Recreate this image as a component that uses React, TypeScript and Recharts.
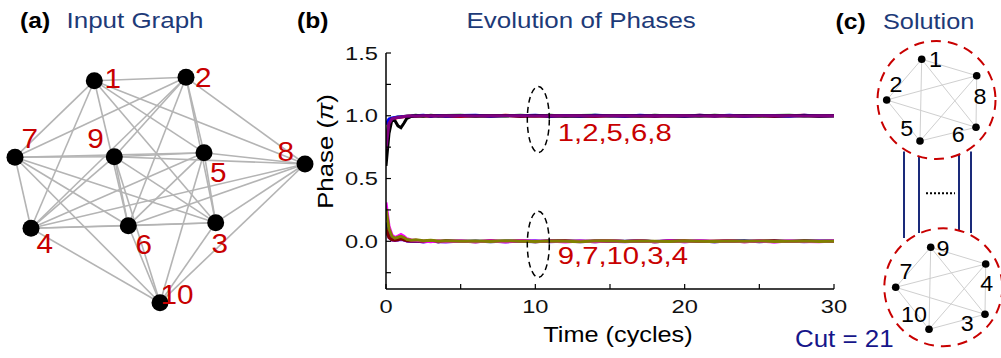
import React from 'react';
import {
  LineChart, Line, XAxis, YAxis, ReferenceDot, ReferenceLine,
  ScatterChart, Scatter, Customized,
} from 'recharts';

const FONT = '"Liberation Sans", Arial, Helvetica, sans-serif';
const NAVY = '#1d3a78';
const RED = '#c80000';

// ---------------- (b) Evolution of phases ----------------
const timeCycles = [0, 0.2, 0.4, 0.6, 0.8, 1.0, 1.2, 1.4, 1.7, 2, 2.5, 3, 3.5, 4, 5, 6, 7, 8, 9, 10,
  11, 12, 13, 14, 15, 16, 17, 18, 19, 20, 21, 22, 23, 24, 25, 26, 27, 28, 29, 30];

const phaseBlack = [0.60, 0.86, 0.97, 0.96, 0.92, 0.905, 0.94, 0.98, 0.995, 1.0,
  0.998, 1.002, 0.999, 1.0, 1.001, 0.998, 1.0, 1.002, 0.999, 1.0,
  1.001, 0.999, 1.0, 0.998, 1.001, 1.0, 0.999, 1.001, 1.0, 0.999,
  1.0, 1.002, 0.999, 1.0, 1.001, 0.998, 1.0, 1.001, 0.999, 1.0];
const phaseBlue = [0.93, 0.975, 0.982, 0.986, 0.99, 0.992, 0.995, 0.997, 0.998, 1.0,
  1.005, 0.996, 1.003, 0.997, 1.002, 1.005, 0.996, 1.003, 1.0, 1.004,
  0.997, 1.002, 0.996, 1.004, 1.0, 0.997, 1.005, 0.998, 1.002, 0.996,
  1.004, 0.998, 1.005, 0.997, 1.002, 1.0, 0.996, 1.004, 0.998, 1.001];
const phaseRed = [0.72, 0.93, 0.975, 0.98, 0.985, 0.99, 0.993, 0.996, 0.998, 0.997,
  1.002, 0.994, 1.003, 0.996, 0.994, 1.002, 0.997, 1.004, 0.995, 1.001,
  0.995, 1.003, 0.998, 0.995, 1.002, 0.997, 1.003, 0.995, 1.001, 0.998,
  1.004, 0.996, 1.002, 0.997, 1.003, 0.995, 1.001, 1.004, 0.997, 1.0];
const phaseGreen = [0.80, 0.95, 0.978, 0.984, 0.99, 0.992, 0.995, 0.997, 1.0, 1.004,
  0.997, 1.004, 0.998, 1.002, 1.005, 0.997, 1.003, 0.998, 1.005, 0.999,
  1.005, 0.997, 1.002, 1.004, 0.998, 1.003, 0.997, 1.005, 0.999, 1.002,
  0.997, 1.004, 0.998, 1.003, 0.996, 1.002, 1.004, 0.998, 1.003, 1.0];
const phasePurple = [0.74, 0.94, 0.975, 0.982, 0.987, 0.99, 0.994, 0.996, 0.998, 0.999,
  1.0, 1.001, 0.999, 1.0, 1.001, 0.999, 1.0, 1.0, 1.001, 0.999,
  1.0, 1.001, 1.0, 0.999, 1.0, 1.001, 0.999, 1.0, 1.001, 1.0,
  0.999, 1.0, 1.001, 0.999, 1.0, 1.001, 1.0, 0.999, 1.001, 1.0];

const phaseNavy = [0.15, 0.05, 0.02, 0.012, 0.012, 0.02, 0.012, 0.005, 0.0, 0.003,
  -0.004, 0.002, -0.003, 0.004, -0.002, 0.003, -0.004, 0.002, 0.0, -0.003,
  0.004, -0.002, 0.003, -0.004, 0.002, 0.0, 0.004, -0.003, 0.002, -0.002,
  0.003, -0.004, 0.002, 0.005, -0.003, 0.002, -0.002, 0.004, 0.0, 0.002];
const phaseViolet = [0.08, 0.03, 0.01, 0.006, 0.01, 0.015, 0.01, 0.003, -0.002, 0.002,
  -0.005, 0.003, -0.004, -0.006, 0.002, -0.003, 0.003, -0.005, 0.002, 0.004,
  -0.003, 0.002, -0.004, 0.003, 0.001, -0.004, 0.003, -0.002, 0.004, -0.003,
  0.002, -0.004, 0.003, -0.002, 0.004, -0.003, 0.002, -0.004, 0.003, 0.0];
const phaseWine = [0.10, 0.03, 0.012, 0.008, 0.012, 0.02, 0.012, 0.005, 0.002, 0.004,
  -0.002, 0.005, -0.003, 0.003, 0.0, -0.003, 0.004, -0.002, 0.005, -0.003,
  0.002, 0.004, -0.002, 0.003, 0.005, -0.002, 0.004, -0.003, 0.002, 0.004,
  -0.002, 0.003, 0.005, -0.003, 0.002, 0.004, -0.002, 0.003, 0.001, 0.0];
const phaseMagenta = [0.31, 0.12, 0.05, 0.03, 0.042, 0.055, 0.04, 0.02, 0.01, 0.008,
  0.003, -0.003, 0.004, -0.002, 0.003, -0.004, 0.002, -0.003, 0.004, -0.002,
  0.003, -0.005, 0.002, -0.003, 0.004, -0.002, 0.003, -0.004, 0.002, -0.003,
  0.004, -0.002, 0.003, -0.004, 0.002, -0.005, 0.003, -0.002, -0.004, 0.002];
const phaseOlive = [0.26, 0.10, 0.04, 0.025, 0.032, 0.04, 0.03, 0.015, 0.008, 0.012,
  0.004, 0.008, 0.002, 0.004, 0.0, 0.003, -0.002, 0.004, 0.001, -0.002,
  0.003, 0.0, -0.003, 0.002, 0.004, -0.001, 0.002, 0.0, -0.002, 0.003,
  0.001, -0.002, 0.002, 0.0, 0.003, -0.002, 0.001, 0.002, -0.001, 0.0];

const phaseSeries = [
  { key: 'green', color: '#008000', values: phaseGreen },
  { key: 'red', color: '#ff0000', values: phaseRed },
  { key: 'blue', color: '#0000ff', values: phaseBlue },
  { key: 'black', color: '#000000', values: phaseBlack },
  { key: 'purple', color: '#800080', values: phasePurple },
  { key: 'navy', color: '#000080', values: phaseNavy },
  { key: 'violet', color: '#8000ff', values: phaseViolet },
  { key: 'wine', color: '#800000', values: phaseWine },
  { key: 'magenta', color: '#ff00ff', values: phaseMagenta },
  { key: 'olive', color: '#808000', values: phaseOlive },
];

const xTicks = [0, 5, 10, 15, 20, 25, 30];
const xTickLabels = [0, 10, 20, 30];
const yTicks = [-0.25, 0, 0.25, 0.5, 0.75, 1, 1.25, 1.5];
const yTickLabels = [0, 0.5, 1, 1.5];

const groupLabels = ['1,2,5,6,8', '9,7,10,3,4'];
const groupLabelAt = [{ t: 11.5, phase: 0.8 }, { t: 11.5, phase: -0.18 }];
const groupEllipseAt = [{ t: 10.2, phase: 0.97 }, { t: 10.2, phase: -0.024 }];

const phaseRows = timeCycles.map((t, i) => {
  const row: Record<string, number> = { t };
  phaseSeries.forEach((s) => { row[s.key] = s.values[i]; });
  return row;
});

// ---------------- (a) Input graph ----------------
const inputNodes = [
  { id: '1', x: 94.3, y: 80.7 },
  { id: '2', x: 186, y: 77.3 },
  { id: '3', x: 215.7, y: 222.7 },
  { id: '4', x: 31, y: 228.3 },
  { id: '5', x: 204, y: 152.7 },
  { id: '6', x: 128.3, y: 225.7 },
  { id: '7', x: 15, y: 157.3 },
  { id: '8', x: 305, y: 164 },
  { id: '9', x: 114.3, y: 156.7 },
  { id: '10', x: 160, y: 302.7 },
];
const inputEdges = [
  ['1', '2'], ['1', '5'], ['1', '6'], ['1', '8'], ['2', '5'], ['2', '6'], ['2', '8'], ['5', '6'], ['5', '8'], ['6', '8'],
  ['3', '4'], ['3', '7'], ['3', '9'], ['3', '10'], ['4', '7'], ['4', '9'], ['4', '10'], ['7', '9'], ['7', '10'], ['9', '10'],
  ['1', '3'], ['1', '4'], ['1', '7'],
  ['2', '3'], ['2', '4'], ['2', '7'], ['2', '9'],
  ['5', '3'], ['5', '4'], ['5', '7'], ['5', '9'], ['5', '10'],
  ['6', '3'], ['6', '4'], ['6', '7'], ['6', '9'], ['6', '10'],
  ['8', '3'], ['8', '4'], ['8', '9'], ['8', '10'],
];
const inputLabelOffset: Record<string, [number, number]> = {
  '1': [10.2, 6.8], '2': [9, 9.9], '3': [-4.2, 30.5], '4': [5.5, 24.9], '5': [6, 29.5],
  '6': [7.2, 28.1], '7': [6.5, -9.5], '8': [-27.5, -3.5], '9': [-27, -8.9], '10': [0.5, 1.1],
};

// ---------------- (c) Solution ----------------
const solutionNodes = [
  { id: '1', x: 921.7, y: 59.3 },
  { id: '8', x: 976.7, y: 75.7 },
  { id: '6', x: 976, y: 127.3 },
  { id: '5', x: 920, y: 141 },
  { id: '2', x: 886.7, y: 100 },
  { id: '9', x: 930.7, y: 247.3 },
  { id: '4', x: 985.7, y: 264 },
  { id: '3', x: 985, y: 314.3 },
  { id: '10', x: 929, y: 329.3 },
  { id: '7', x: 895.7, y: 287.3 },
];
const solutionGroupA = ['1', '2', '5', '6', '8'];
const solutionGroupB = ['9', '7', '10', '3', '4'];
const solutionCircles = [{ x: 936.5, y: 100 }, { x: 943.3, y: 287.3 }];
const cutConnectors = [
  { x: 904, y1: 151.5, y2: 238 },
  { x: 919, y1: 157, y2: 233 },
  { x: 959, y1: 155, y2: 230 },
  { x: 971, y1: 151.5, y2: 233 },
];
const cutDots = { x1: 926, x2: 955, y: 193.3 };
const solutionLabelOffset: Record<string, [number, number]> = {
  '1': [7.3, 7.9], '2': [2.8, -7.8], '8': [-3.2, 28.1], '5': [-19.8, -5.5], '6': [-24.2, 14.9],
  '9': [5.8, 8.2], '7': [3.8, -8.5], '4': [-5.5, 26.5], '10': [-28, -7.1], '3': [-24.2, 16.2],
};

const nodeById = (list: { id: string; x: number; y: number }[], id: string) => list.find((n) => n.id === id)!;

function pairs(ids: string[]) {
  const out: [string, string][] = [];
  for (let i = 0; i < ids.length; i++) for (let j = i + 1; j < ids.length; j++) out.push([ids[i], ids[j]]);
  return out;
}

// ---------------- helpers ----------------
function STxt({ x, y, size, sx = 1, fill = '#000', weight = 'normal', anchor = 'start', rotate = 0, children }: any) {
  return (
    <text
      transform={`translate(${x},${y}) rotate(${rotate}) scale(${sx},1)`}
      x={0}
      y={0}
      fontFamily={FONT}
      fontSize={size}
      fontWeight={weight}
      fill={fill}
      textAnchor={anchor}
    >
      {children}
    </text>
  );
}

const XTick = (p: any) => {
  const v = p.payload.value;
  if (!xTickLabels.includes(v)) return <g />;
  return <STxt x={p.x} y={p.y + 13.2} size={18.5} sx={1.28} anchor="middle" fill="#111">{String(v)}</STxt>;
};
const YTick = (p: any) => {
  const v = p.payload.value;
  if (!yTickLabels.includes(v)) return <g />;
  return <STxt x={p.x} y={p.y + 6.6} size={18.5} sx={1.28} anchor="end" fill="#111">{v.toFixed(1)}</STxt>;
};

const Titles = () => (
  <g>
    <STxt x={20} y={28} size={22} sx={1.12} weight="bold">(a)</STxt>
    <STxt x={66.5} y={28.3} size={22} sx={1.18} fill={NAVY}>Input Graph</STxt>
    <STxt x={297} y={28.3} size={22} sx={1.12} weight="bold">(b)</STxt>
    <STxt x={466.5} y={28.3} size={22} sx={1.18} fill={NAVY}>Evolution of Phases</STxt>
    <STxt x={835.5} y={29} size={22} sx={1.12} weight="bold">(c)</STxt>
    <STxt x={883} y={29.3} size={22} sx={1.15} fill={NAVY}>Solution</STxt>
    <STxt x={618} y={342} size={22} sx={1.15} anchor="middle">Time (cycles)</STxt>
    <text
      transform="translate(333,151.5) rotate(-90) scale(1.2,1)"
      fontFamily={FONT}
      fontSize={21.5}
      textAnchor="middle"
      fill="#000"
    >
      Phase (<tspan fontStyle="italic">π</tspan>)
    </text>
    <STxt x={795} y={347} size={24} sx={1.08} fill="#16168a">Cut = 21</STxt>
  </g>
);

const InputNodeShape = (p: any) => {
  const off = inputLabelOffset[p.payload.id];
  return (
    <g>
      <circle cx={p.cx} cy={p.cy} r={8.5} fill="#000" />
      <STxt x={p.cx + off[0]} y={p.cy + off[1]} size={27.5} sx={1.08} fill={RED}>{p.payload.id}</STxt>
    </g>
  );
};
const SolutionNodeShape = (p: any) => {
  const off = solutionLabelOffset[p.payload.id];
  return (
    <g>
      <circle cx={p.cx} cy={p.cy} r={3.8} fill="#000" />
      <STxt x={p.cx + off[0]} y={p.cy + off[1]} size={22} sx={1.06} fill="#000">{p.payload.id}</STxt>
    </g>
  );
};

export default function App() {
  const solEdges = [...pairs(solutionGroupA), ...pairs(solutionGroupB)];
  return (
    <div style={{ position: 'absolute', left: 0, top: 0, width: 1001, height: 358, background: '#fff', overflow: 'hidden' }}>
      <div style={{ position: 'absolute', left: 0, top: 0 }}>
        <ScatterChart width={1001} height={358} margin={{ top: 0, right: 0, bottom: 0, left: 0 }}>
          <XAxis type="number" dataKey="x" domain={[0, 1001]} hide />
          <YAxis type="number" dataKey="y" domain={[0, 358]} reversed hide />
          {inputEdges.map(([a, b], i) => {
            const na = nodeById(inputNodes, a);
            const nb = nodeById(inputNodes, b);
            return (
              <ReferenceLine
                key={`ea${i}`}
                segment={[{ x: na.x, y: na.y }, { x: nb.x, y: nb.y }]}
                stroke="#b4b4b4"
                strokeWidth={1.6}
                ifOverflow="visible"
              />
            );
          })}
          {solEdges.map(([a, b], i) => {
            const na = nodeById(solutionNodes, a);
            const nb = nodeById(solutionNodes, b);
            return (
              <ReferenceLine
                key={`es${i}`}
                segment={[{ x: na.x, y: na.y }, { x: nb.x, y: nb.y }]}
                stroke="#cfcfcf"
                strokeWidth={1}
                ifOverflow="visible"
              />
            );
          })}
          {cutConnectors.map((c, i) => (
            <ReferenceLine
              key={`cc${i}`}
              segment={[{ x: c.x, y: c.y1 }, { x: c.x, y: c.y2 }]}
              stroke="#1a2a7a"
              strokeWidth={2}
              ifOverflow="visible"
            />
          ))}
          <ReferenceLine
            segment={[{ x: cutDots.x1, y: cutDots.y }, { x: cutDots.x2, y: cutDots.y }]}
            stroke="#000"
            strokeWidth={2}
            strokeDasharray="2 2"
            ifOverflow="visible"
          />
          {solutionCircles.map((c, i) => (
            <ReferenceDot
              key={`sc${i}`}
              x={c.x}
              y={c.y}
              r={59}
              fill="none"
              stroke="#c80000"
              strokeWidth={2}
              strokeDasharray="10 7"
              ifOverflow="visible"
            />
          ))}
          <Scatter data={inputNodes} shape={InputNodeShape} isAnimationActive={false} />
          <Scatter data={solutionNodes} shape={SolutionNodeShape} isAnimationActive={false} />
        </ScatterChart>
      </div>
      <div style={{ position: 'absolute', left: 0, top: 0 }}>
        <LineChart width={1001} height={358} data={phaseRows} margin={{ top: 53, right: 167, bottom: 29, left: 326 }}>
          <XAxis
            dataKey="t"
            type="number"
            domain={[0, 30]}
            ticks={xTicks}
            interval={0}
            height={40}
            tickSize={-5}
            tickMargin={16}
            tick={XTick}
            axisLine={{ stroke: '#000', strokeWidth: 1.5 }}
            tickLine={{ stroke: '#000', strokeWidth: 1.2 }}
            allowDataOverflow
          />
          <XAxis
            xAxisId="top"
            orientation="top"
            type="number"
            domain={[0, 30]}
            ticks={xTicks}
            interval={0}
            height={0}
            tickSize={-5}
            tick={false}
            axisLine={{ stroke: '#000', strokeWidth: 1.5 }}
            tickLine={{ stroke: '#000', strokeWidth: 1.2 }}
            allowDataOverflow
          />
          <YAxis
            type="number"
            domain={[-0.38, 1.5]}
            ticks={yTicks}
            interval={0}
            width={60}
            tickSize={-5}
            tickMargin={13}
            tick={YTick}
            axisLine={{ stroke: '#000', strokeWidth: 1.5 }}
            tickLine={{ stroke: '#000', strokeWidth: 1.2 }}
            allowDataOverflow
          />
          <YAxis
            yAxisId="right"
            orientation="right"
            type="number"
            domain={[-0.38, 1.5]}
            ticks={yTicks}
            interval={0}
            width={0}
            tickSize={-5}
            tick={false}
            axisLine={{ stroke: '#000', strokeWidth: 1.5 }}
            tickLine={{ stroke: '#000', strokeWidth: 1.2 }}
            allowDataOverflow
          />
          {phaseSeries.map((s) => (
            <Line
              key={s.key}
              dataKey={s.key}
              type="linear"
              stroke={s.color}
              strokeWidth={3}
              dot={false}
              isAnimationActive={false}
            />
          ))}
          {groupEllipseAt.map((e, i) => (
            <ReferenceDot
              key={`el${i}`}
              x={e.t}
              y={e.phase}
              r={1}
              ifOverflow="visible"
              shape={(p: any) => (
                <ellipse cx={p.cx} cy={p.cy} rx={11} ry={33} fill="none" stroke="#000" strokeWidth={1.5} strokeDasharray="6 4" />
              )}
            />
          ))}
          {groupLabelAt.map((g, i) => (
            <ReferenceDot
              key={`gl${i}`}
              x={g.t}
              y={g.phase}
              r={1}
              ifOverflow="visible"
              shape={(p: any) => (
                <STxt x={p.cx} y={p.cy} size={24} sx={1.22} fill={RED}>{groupLabels[i]}</STxt>
              )}
            />
          ))}
          <Customized component={Titles} />
        </LineChart>
      </div>
    </div>
  );
}
